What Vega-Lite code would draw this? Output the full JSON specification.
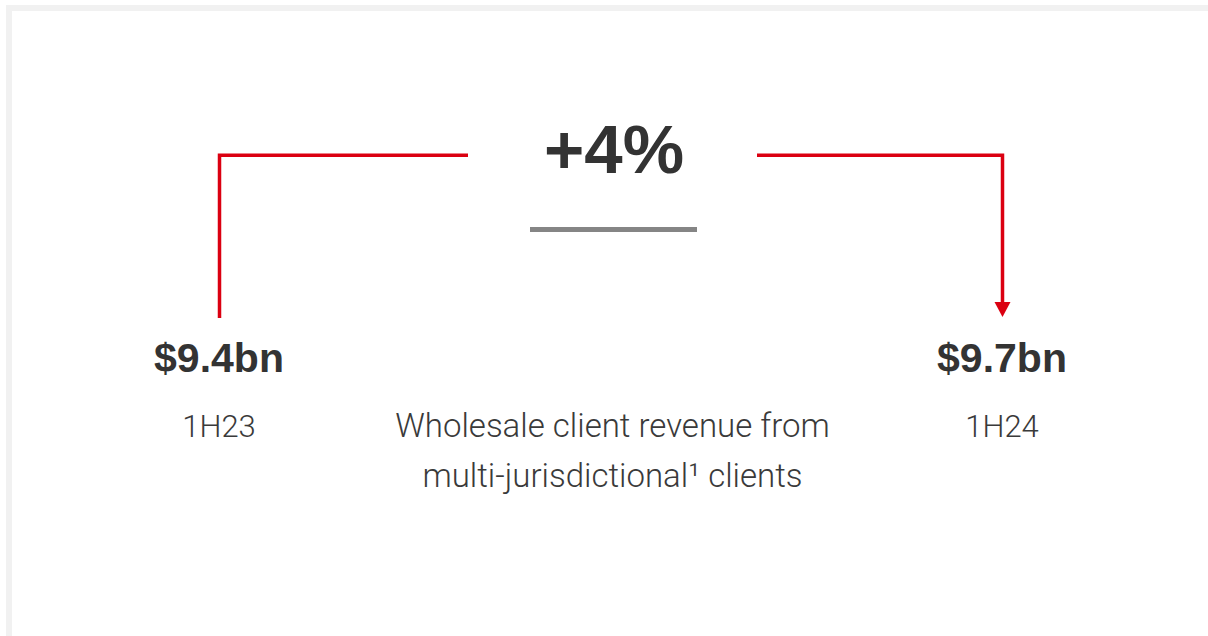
{
  "$schema": "https://vega.github.io/schema/vega-lite/v6.json",
  "width": 1208,
  "height": 636,
  "padding": 0,
  "autosize": {"type": "fit", "contains": "padding"},
  "background": "white",
  "config": {"view": {"stroke": null}},
  "datasets": {
    "frame": [
      {"part": "outer", "x": 6, "x2": 1208, "y": 5, "y2": 636},
      {"part": "inner", "x": 12, "x2": 1208, "y": 11, "y2": 636}
    ],
    "connector": [
      {"seg": "left", "ord": 1, "x": 219.5, "y": 318},
      {"seg": "left", "ord": 2, "x": 219.5, "y": 155.3},
      {"seg": "left", "ord": 3, "x": 468, "y": 155.3},
      {"seg": "right", "ord": 1, "x": 757, "y": 155.3},
      {"seg": "right", "ord": 2, "x": 1002.5, "y": 155.3},
      {"seg": "right", "ord": 3, "x": 1002.5, "y": 303}
    ],
    "arrow": [{"x": 1002.5, "y": 309.5}],
    "divider": [{"x": 530, "x2": 697, "y": 229.5}],
    "change": [{"label": "+4%", "x": 614, "y": 173}],
    "values": [
      {"period": "1H23", "value": "$9.4bn", "x": 219, "yv": 372, "yp": 437},
      {"period": "1H24", "value": "$9.7bn", "x": 1002, "yv": 372, "yp": 437}
    ],
    "caption": [
      {"line": "Wholesale client revenue from", "x": 612.5, "y": 437},
      {"line": "multi-jurisdictional¹ clients", "x": 612.5, "y": 487}
    ]
  },
  "layer": [
    {
      "data": {"name": "frame"},
      "mark": {"type": "rect"},
      "encoding": {
        "x": {"field": "x", "type": "quantitative", "scale": {"domain": [0, 1208], "nice": false, "zero": false}, "axis": null},
        "x2": {"field": "x2"},
        "y": {"field": "y", "type": "quantitative", "scale": {"domain": [0, 636], "nice": false, "zero": false, "reverse": true}, "axis": null},
        "y2": {"field": "y2"},
        "color": {"field": "part", "type": "nominal", "scale": {"domain": ["outer", "inner"], "range": ["#f1f1f1", "#ffffff"]}, "legend": null}
      }
    },
    {
      "data": {"name": "connector"},
      "mark": {"type": "line", "color": "#db0011", "strokeWidth": 3.5, "strokeCap": "butt", "strokeJoin": "miter"},
      "encoding": {
        "x": {"field": "x", "type": "quantitative"},
        "y": {"field": "y", "type": "quantitative"},
        "detail": {"field": "seg"},
        "order": {"field": "ord", "type": "quantitative"}
      }
    },
    {
      "data": {"name": "arrow"},
      "mark": {"type": "point", "shape": "M-1,-0.95L1,-0.95L0,0.95Z", "size": 256, "filled": true, "color": "#db0011", "opacity": 1, "strokeWidth": 0},
      "encoding": {
        "x": {"field": "x", "type": "quantitative"},
        "y": {"field": "y", "type": "quantitative"}
      }
    },
    {
      "data": {"name": "divider"},
      "mark": {"type": "rule", "color": "#858585", "strokeWidth": 5, "strokeCap": "butt"},
      "encoding": {
        "x": {"field": "x", "type": "quantitative"},
        "x2": {"field": "x2"},
        "y": {"field": "y", "type": "quantitative"}
      }
    },
    {
      "data": {"name": "change"},
      "mark": {"type": "text", "font": "Liberation Sans", "fontWeight": "bold", "fontSize": 69, "color": "#333333", "align": "center", "baseline": "alphabetic"},
      "encoding": {
        "x": {"field": "x", "type": "quantitative"},
        "y": {"field": "y", "type": "quantitative"},
        "text": {"field": "label"}
      }
    },
    {
      "data": {"name": "values"},
      "mark": {"type": "text", "font": "Liberation Sans", "fontWeight": "bold", "fontSize": 41, "color": "#333333", "align": "center", "baseline": "alphabetic"},
      "encoding": {
        "x": {"field": "x", "type": "quantitative"},
        "y": {"field": "yv", "type": "quantitative"},
        "text": {"field": "value"}
      }
    },
    {
      "data": {"name": "values"},
      "mark": {"type": "text", "font": "Roboto", "fontWeight": 300, "fontSize": 31, "color": "#3a3a3a", "align": "center", "baseline": "alphabetic"},
      "encoding": {
        "x": {"field": "x", "type": "quantitative"},
        "y": {"field": "yp", "type": "quantitative"},
        "text": {"field": "period"}
      }
    },
    {
      "data": {"name": "caption"},
      "mark": {"type": "text", "font": "Roboto", "fontWeight": 300, "fontSize": 33, "color": "#3a3a3a", "align": "center", "baseline": "alphabetic"},
      "encoding": {
        "x": {"field": "x", "type": "quantitative"},
        "y": {"field": "y", "type": "quantitative"},
        "text": {"field": "line"}
      }
    }
  ]
}
